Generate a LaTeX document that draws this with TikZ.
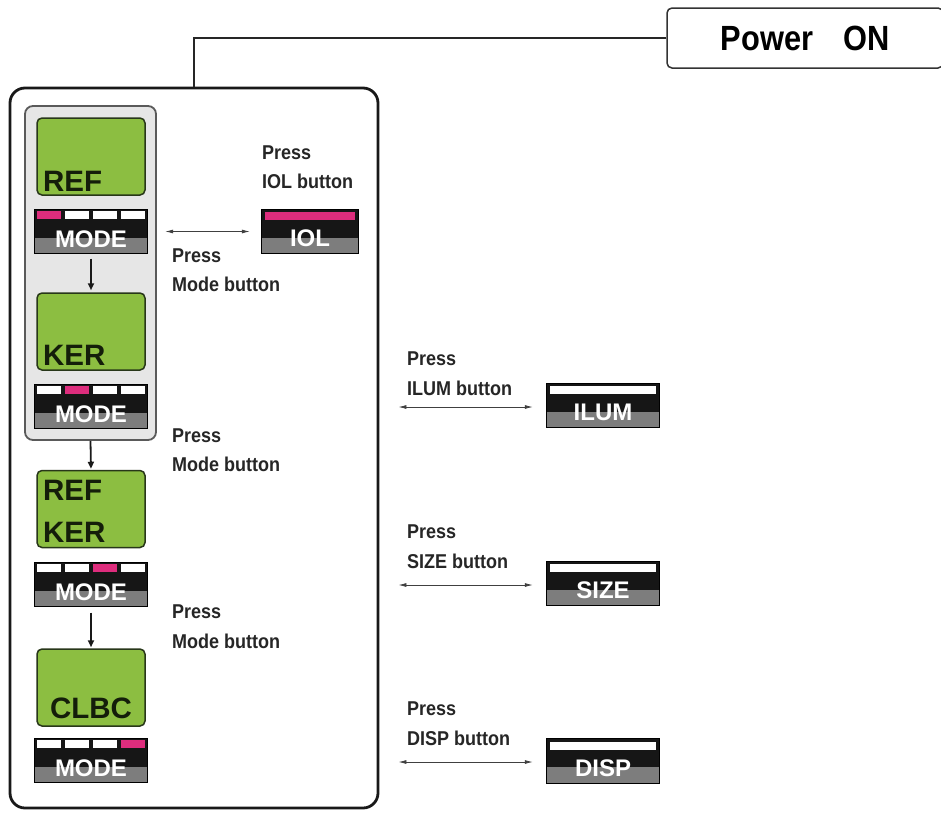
\documentclass[tikz,border=0pt]{standalone}
\usepackage{fontspec}
\setmainfont{Liberation Sans}
\newfontfamily\condf{Liberation Sans}[FakeStretch=0.9]
\newfontfamily\powf{Liberation Sans}[FakeStretch=0.88]
\usetikzlibrary{arrows.meta,calc}
\definecolor{scrgreen}{RGB}{140,190,65}
\definecolor{scrborder}{RGB}{40,55,25}
\definecolor{scrtext}{RGB}{20,30,10}
\definecolor{barpink}{RGB}{222,45,125}
\definecolor{bargray}{RGB}{125,125,125}
\definecolor{barblack}{RGB}{22,22,22}
\definecolor{boxgray}{RGB}{230,230,230}
\definecolor{boxedge}{RGB}{90,90,90}
\tikzset{
  screen/.style={draw=scrborder, fill=scrgreen, line width=1.5pt, rounded corners=5pt,
    minimum width=108pt, minimum height=77pt, inner sep=0pt},
  scrtxt/.style={anchor=base west, inner sep=0pt, text=scrtext, font=\fontsize{29.5}{30}\selectfont\bfseries},
  lbl/.style={anchor=base west, inner sep=0pt, text=black!85, font=\condf\fontsize{20}{20}\selectfont\bfseries},
  barbox/.style={fill=barblack, minimum height=44pt, inner sep=0pt},
  barline/.style={draw=black, line width=1.2pt},
  btntxt/.style={text=white, inner sep=0pt, font=\fontsize{24}{24}\selectfont\bfseries},
  dbl/.style={{Latex[length=8pt,width=4pt]}-{Latex[length=8pt,width=4pt]}, line width=0.8pt, draw=black!75},
  downarr/.style={-{Triangle[length=7pt,width=6pt]}, line width=1.8pt, draw=black!90},
}
\newcommand{\modebar}[4]{%
  \node[barbox, minimum width=112pt] (#1) at (#2,#3) {};
  \fill[bargray] (#1.south west) rectangle ([yshift=16pt]#1.south east);
  \foreach \k in {0,1,2,3}{%
    \ifnum\k=#4\relax\def\segc{barpink}\else\def\segc{white}\fi
    \fill[\segc] ([xshift={(2+28*\k)*1pt},yshift=-1.5pt]#1.north west) rectangle ++(24.5pt,-8.5pt);}
  \draw[barline] (#1.south west) rectangle (#1.north east);
  \node[btntxt] (#1t) at ([yshift=-8pt]#1.center) {MODE};
}
\newcommand{\ctrlbtn}[6]{%
  \node[barbox, minimum width=#4pt] (#1) at (#2,#3) {};
  \fill[bargray] (#1.south west) rectangle ([yshift=16pt]#1.south east);
  \fill[#5] ([xshift=3pt,yshift=-3pt]#1.north west) rectangle ([xshift=-3pt,yshift=-11pt]#1.north east);
  \draw[barline] (#1.south west) rectangle (#1.north east);
  \node[btntxt] (#1t) at ([yshift=-7pt]#1.center) {#6};
}
\begin{document}
\begin{tikzpicture}[x=1pt,y=-1pt]
\useasboundingbox[fill=white] (0,0) rectangle (941,812);

% Power ON
\node[draw=black!80, line width=1.5pt, rounded corners=5pt, minimum width=276pt, minimum height=60pt,
  inner sep=0pt, font=\powf\fontsize{35}{35}\selectfont\bfseries] (power) at (805,38) {Power\hspace{30pt}ON};

% big box
\node[draw=black!90, line width=2.8pt, rounded corners=15pt, minimum width=368pt, minimum height=720pt] (big) at (194,448) {};
\draw[line width=2pt, black!85] (power.west) -| (big.north);

% gray group box
\node[draw=boxedge, fill=boxgray, line width=1.8pt, rounded corners=8pt, minimum width=131pt, minimum height=334pt] (gbox) at (90.5,273) {};

% screens
\node[screen] (s1) at (91,156.5) {};
\node[scrtxt] (s1t) at (43,191) {REF};
\modebar{m1}{91}{231.5}{0}
\node[screen] (s2) at (91,331.5) {};
\node[scrtxt] (s2t) at (43,365) {KER};
\modebar{m2}{91}{406.5}{1}
\node[screen] (s3) at (91,509) {};
\node[scrtxt] (s3a) at (43,500) {REF};
\node[scrtxt] (s3b) at (43,542) {KER};
\modebar{m3}{91}{584.5}{2}
\node[screen] (s4) at (91,687.5) {};
\node[scrtxt, anchor=base] (s4t) at (91,718) {CLBC};
\modebar{m4}{91}{760.5}{3}

% down arrows
\draw[downarr, shorten <=5pt, shorten >=2pt] (m1.south) -- (s2.north);
\draw[downarr, shorten >=1pt] (gbox.south) -- (s3.north);
\draw[downarr, shorten <=6pt, shorten >=1pt] (m3.south) -- (s4.north);

% mode labels
\node[lbl] (pm1a) at (172,262) {Press};
\node[lbl] (pm1b) at (172,291) {Mode button};
\node[lbl] (pm2a) at (172,442) {Press};
\node[lbl] (pm2b) at (172,471) {Mode button};
\node[lbl] (pm3a) at (172,618) {Press};
\node[lbl] (pm3b) at (172,648) {Mode button};

% IOL
\ctrlbtn{iol}{310}{231.5}{96}{barpink}{IOL}
\node[lbl] (pia) at (262,159) {Press};
\node[lbl] (pib) at (262,188) {IOL button};
\draw[dbl, shorten <=18pt, shorten >=12pt] (m1.east) -- (iol.west);

% ILUM
\ctrlbtn{ilum}{603}{405.5}{112}{white}{ILUM}
\node[lbl] (pla) at (407,365) {Press};
\node[lbl] (plb) at (407,395) {ILUM button};
\draw[dbl, shorten <=19pt, shorten >=14pt] ([yshift=-1.5pt]big.east |- ilum.west) -- ([yshift=-1.5pt]ilum.west);

% SIZE
\ctrlbtn{size}{603}{583.5}{112}{white}{SIZE}
\node[lbl] (psa) at (407,538) {Press};
\node[lbl] (psb) at (407,568) {SIZE button};
\draw[dbl, shorten <=19pt, shorten >=14pt] ([yshift=-1.5pt]big.east |- size.west) -- ([yshift=-1.5pt]size.west);

% DISP
\ctrlbtn{disp}{603}{761}{112}{white}{DISP}
\node[lbl] (pda) at (407,715) {Press};
\node[lbl] (pdb) at (407,745) {DISP button};
\draw[dbl, shorten <=19pt, shorten >=14pt] ([yshift=-1pt]big.east |- disp.west) -- ([yshift=-1pt]disp.west);
\end{tikzpicture}
\end{document}
